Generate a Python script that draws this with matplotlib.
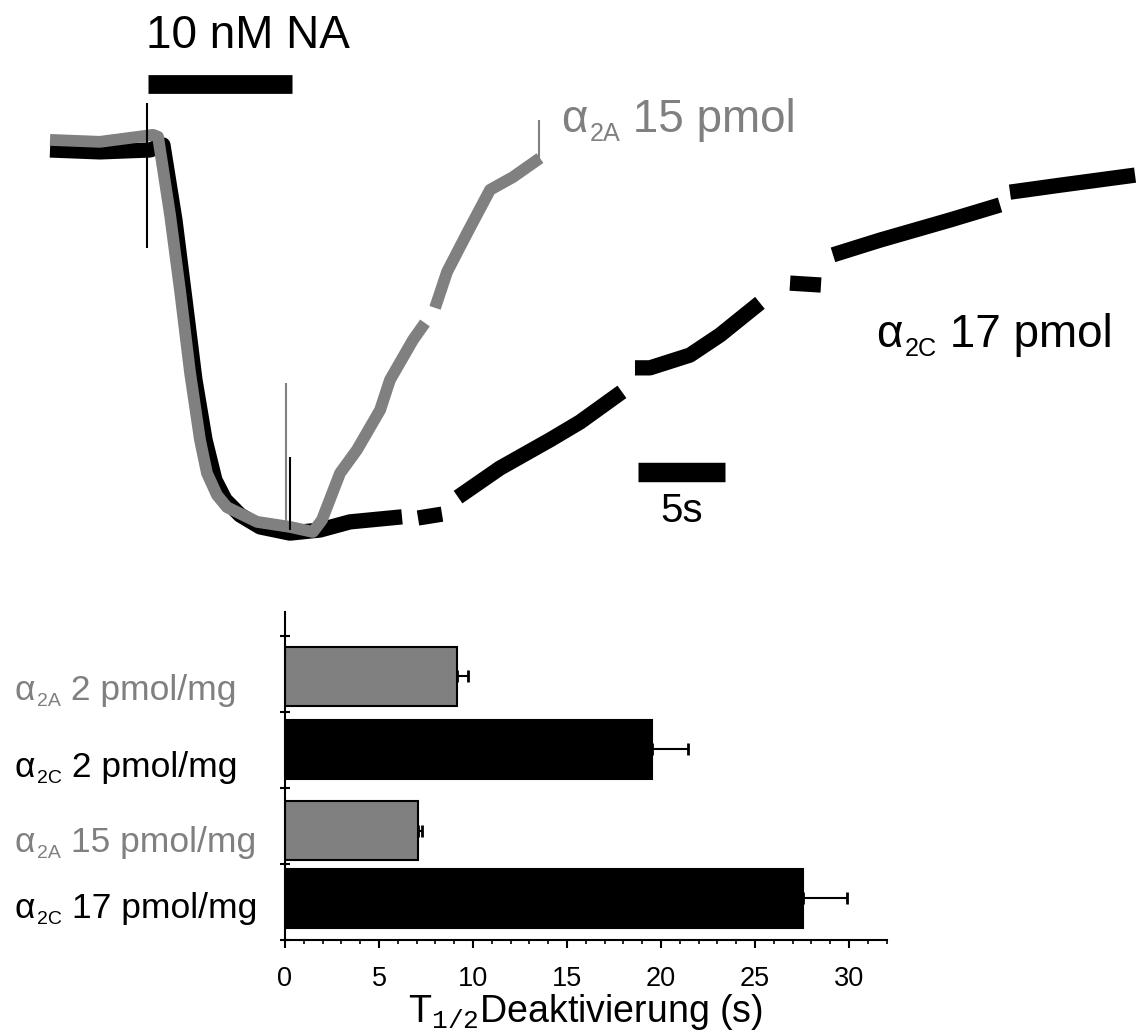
import numpy as np
import matplotlib
matplotlib.use('Agg')
import matplotlib.pyplot as plt
import matplotlib.transforms as mtransforms

plt.rcParams['font.family'] = ['Liberation Sans', 'DejaVu Sans']
plt.rcParams['mathtext.fontset'] = 'custom'
plt.rcParams['mathtext.rm'] = 'Liberation Sans'
plt.rcParams['mathtext.tt'] = 'Liberation Mono'

GRAY = '#808080'
nan = np.nan

# current traces (time in s, normalised current); nan = gap in the recording
a2a_t = [0.00, 2.87, 5.92, 6.21, 6.90, 7.47, 8.05, 8.62, 9.02, 9.60, 10.17, 11.90,
         13.79, 15.11, 15.63, 16.67, 17.64, 18.97, 19.54, 20.86, 21.55,
         nan, 22.13, 22.82, 23.97, 25.29, 26.61, 28.16]
a2a_i = [0.008, 0.003, 0.021, 0.016, -0.186, -0.380, -0.594, -0.767, -0.853, -0.910, -0.941, -0.979,
         -0.992, -1.005, -0.974, -0.853, -0.793, -0.690, -0.612, -0.509, -0.465,
         nan, -0.426, -0.333, -0.233, -0.121, -0.088, -0.039]

a2c_t = [0.00, 2.87, 5.75, 6.49, 7.18, 7.76, 8.33, 8.91, 9.48, 10.06, 10.92, 12.07,
         13.79, 15.52, 17.24, 20.23, nan, 21.15, 22.53, nan,
         23.45, 25.86, 28.74, 30.46, 32.87, nan,
         33.62, 34.48, 36.78, 38.51, 40.80, nan,
         42.53, 44.31, nan,
         45.00, 47.70, 51.72, 54.60, nan,
         55.17, 58.05, 62.36]
a2c_i = [-0.018, -0.023, -0.018, -0.005, -0.199, -0.406, -0.612, -0.767, -0.871, -0.922, -0.961, -0.992,
         -1.008, -1.000, -0.979, -0.966, nan, -0.969, -0.959, nan,
         -0.915, -0.840, -0.767, -0.721, -0.643, nan,
         -0.581, -0.581, -0.548, -0.496, -0.413, nan,
         -0.362, -0.367, nan,
         -0.289, -0.251, -0.199, -0.160, nan,
         -0.127, -0.109, -0.083]

# artefact spikes
spike_t = [5.57, 13.56, 13.79, 28.10]
spike_top = [0.103, -0.620, -0.811, 0.060]
spike_bottom = [-0.271, -0.980, -1.000, -0.040]
spike_colors = ['black', GRAY, 'black', GRAY]

na_on, na_off = 5.63, 13.91
scale_start, scale_len = 33.79, 5.0

# deactivation half-times
group_sub = ['2A', '2C', '2A', '2C']
group_rest = ['2 pmol/mg', '2 pmol/mg', '15 pmol/mg', '17 pmol/mg']
t_half = [9.13, 19.51, 7.09, 27.54]
t_half_err = [0.59, 1.93, 0.18, 2.34]
bar_colors = [GRAY, 'black', GRAY, 'black']
bar_pos = [3.47, 2.51, 1.44, 0.55]
label_pos = [3.16, 2.14, 1.16, 0.29]


def alpha_label(ax, x, y, sub, rest, size, color, **kw):
    # alpha with a small subscript, then the rest on the alpha's baseline
    t1 = ax.text(x, y, 'α', fontsize=size, color=color, va='baseline', **kw)
    t2 = ax.annotate(sub, xy=(1, 0), xycoords=t1, xytext=(1, -0.08 * size),
                     textcoords='offset points', fontsize=0.55 * size, color=color,
                     va='bottom', annotation_clip=False)
    ax.annotate(' ' + rest, xy=(1, 0), xycoords=(t2, t1), fontsize=size, color=color,
                va='bottom', annotation_clip=False)


fig = plt.figure(figsize=(11.38, 10.35), dpi=100)

# ---- traces
ax = fig.add_axes([0, 475 / 1035, 1, 560 / 1035])
ax.set_xlim(-50 / 17.4, 1088 / 17.4)
ax.set_ylim(-1.0775, 0.3695)
ax.axis('off')
ax.plot(a2c_t, a2c_i, color='black', lw=11, solid_capstyle='butt', zorder=2)
ax.plot(a2a_t, a2a_i, color=GRAY, lw=8.5, solid_capstyle='butt', zorder=3)
ax.vlines(spike_t, spike_bottom, spike_top, colors=spike_colors, lw=1.5, zorder=4)
ax.plot([na_on, na_off], [0.152, 0.152], color='black', lw=13.5, solid_capstyle='butt')
ax.plot([scale_start, scale_start + scale_len], [-0.85, -0.85], color='black', lw=14,
        solid_capstyle='butt')
ax.text(11.4, 0.246, '10 nM NA', fontsize=33, ha='center', va='baseline')
ax.text(scale_start + scale_len / 2, -0.979, '5s', fontsize=29, ha='center', va='baseline')
alpha_label(ax, 29.4, 0.028, '2A', '15 pmol', 33, GRAY)
alpha_label(ax, 47.5, -0.527, '2C', '17 pmol', 33, 'black')

# ---- bars
bx = fig.add_axes([285 / 1138, 95 / 1035, 601.6 / 1138, 328 / 1035])
bx.barh(bar_pos, t_half, height=0.78, color=bar_colors, edgecolor='black', linewidth=1.5,
        zorder=2)
bx.errorbar(t_half, bar_pos, xerr=[np.zeros(len(t_half)), t_half_err], fmt='none',
            ecolor='black', elinewidth=1.5, capsize=4, capthick=2, zorder=3)
bx.set_xlim(0, 32)
bx.set_ylim(0, 328 / 76)
for s in ['top', 'right']:
    bx.spines[s].set_visible(False)
for s in ['left', 'bottom']:
    bx.spines[s].set_linewidth(1.5)
bx.set_xticks(range(0, 31, 5))
bx.set_xticks(range(0, 33), minor=True)
bx.set_yticks(range(0, 5))
bx.set_yticklabels([])
bx.tick_params(axis='x', which='major', direction='out', length=6, width=1.5,
               labelsize=19.5, pad=13)
bx.tick_params(axis='x', which='minor', direction='out', length=3, width=1.2)
bx.tick_params(axis='y', which='major', direction='inout', length=7, width=1.5)
bx.set_xlabel(r'T$_{\mathtt{1/2}}$Deaktivierung (s)', fontsize=27, labelpad=0)

trans = mtransforms.blended_transform_factory(fig.transFigure, bx.transData)
for sub, rest, y, c in zip(group_sub, group_rest, label_pos, bar_colors):
    alpha_label(bx, 15 / 1138, y, sub, rest, 25.5, c, transform=trans)

fig.savefig('out.png', dpi=100)
